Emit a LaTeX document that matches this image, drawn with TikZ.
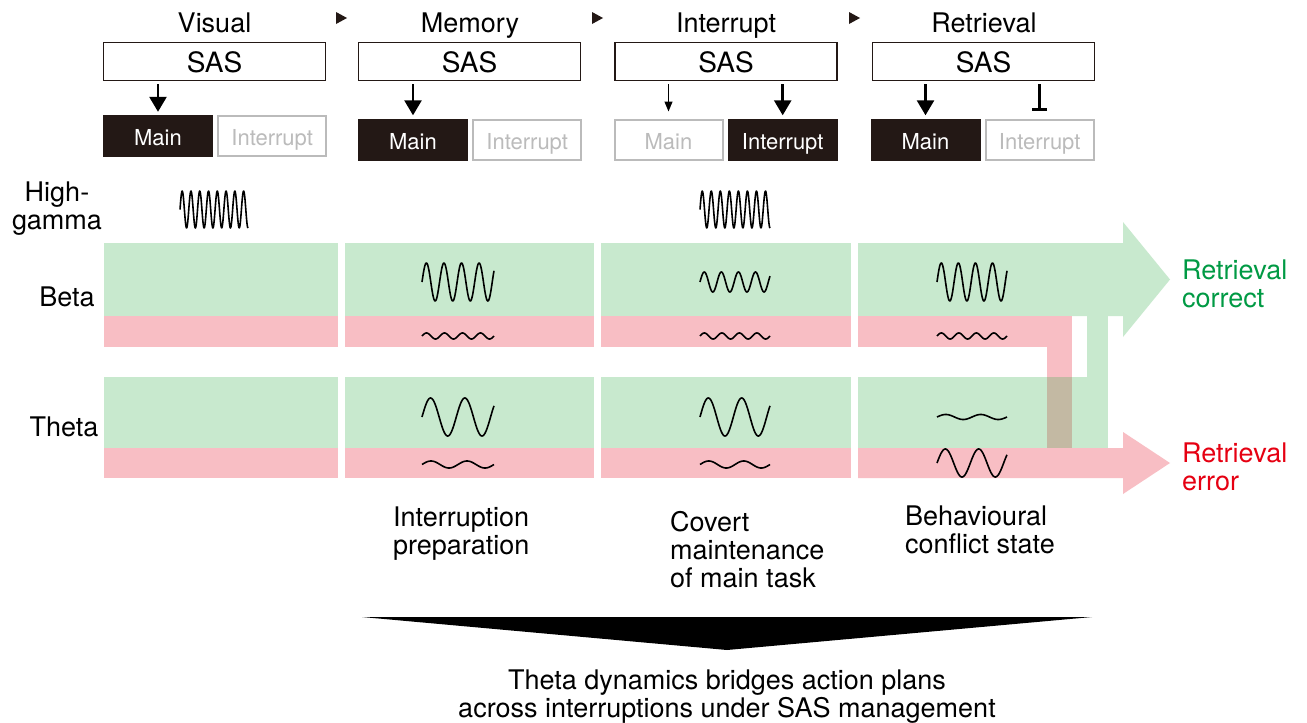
\documentclass[tikz,border=0pt]{standalone}
\usepackage{fontspec}
\setmainfont{TeX Gyre Heros}
\usepackage{xcolor}
\definecolor{inkDark}{HTML}{231815}
\definecolor{offGray}{HTML}{BBBBBB}
\definecolor{bandGreen}{HTML}{C8E9CE}
\definecolor{bandPink}{HTML}{F8BEC4}
\definecolor{bandMix}{HTML}{C3B9A3}
\definecolor{okGreen}{HTML}{009A44}
\definecolor{errRed}{HTML}{E60012}
\usepackage{tikz}
\usetikzlibrary{
    arrows.meta,
    positioning
}
\tikzset{
    % Base style for all text
    text base/.style={
        font=\fontsize{27}{28}\selectfont,
        text=black,
        inner sep=0pt,
    },
    % Phase titles above the SAS boxes
    phase title/.style={
        text base,
        anchor=base,
    },
    % SAS boxes
    sas box/.style={
        text base,
        font=\fontsize{28}{28}\selectfont,
        draw=inkDark,
        line width=1.3pt,
        fill=white,
        minimum width=222pt,
        minimum height=38pt,
        text height=24pt,
        text depth=1.6pt,
    },
    % Task boxes - active (filled) and inactive (grey)
    task base/.style={
        font=\fontsize{22}{24}\selectfont,
        inner sep=0pt,
        text height=20pt,
        text depth=0.2pt,
    },
    task on/.style={
        task base,
        fill=inkDark,
        text=white,
        minimum width=110pt,
        minimum height=42pt,
    },
    task off/.style={
        task base,
        draw=offGray,
        line width=2pt,
        text=offGray,
        fill=white,
        minimum width=108pt,
        minimum height=40pt,
    },
    % SAS control arrows
    sas arrow/.style={
        -{Triangle[length=15pt, width=17pt]},
        line width=2.6pt,
        shorten <=3pt,
        shorten >=3pt,
    },
    sas weak/.style={
        -{Triangle[length=10pt, width=8pt]},
        line width=1.2pt,
        shorten <=3pt,
        shorten >=7pt,
    },
    sas block/.style={
        -{Bar[width=15pt, line width=2.8pt]},
        line width=2.6pt,
        shorten <=3pt,
        shorten >=7.5pt,
    },
    % Labels
    row label/.style={
        text base,
        align=center,
    },
    note/.style={
        text base,
        align=left,
        anchor=north west,
    },
    % Oscillation traces
    wave line/.style={
        line width=1.6pt,
        black,
        line join=round,
    },
}
% x, y centre, amplitude, cycles, width
\newcommand{\oscwave}[5]{%
    \draw[wave line] plot[domain=0:#5, samples=160]
        ({#1+\x},{#2-#3*sin(\x/#5*#4*360)});}

\begin{document}
\begin{tikzpicture}[x=1pt, y=-1pt]
    \useasboundingbox (0,0) rectangle (1307,723);
    \fill[white] (0,0) rectangle (1307,723);

    % phase titles and SAS boxes
    \node[phase title] (ph1) at (214.5,32) {Visual};
    \node[phase title] (ph2) at (470,32) {Memory};
    \node[phase title] (ph3) at (726,32) {Interrupt};
    \node[phase title] (ph4) at (984,32) {Retrieval};
    \foreach \tx in {336,592,849}
        \fill[inkDark] (\tx,12) -- ++(11,6) -- ++(-11,6) -- cycle;

    \node[sas box] (sas1) at (214.5,61.5) {SAS};
    \node[sas box] (sas2) at (469.5,61.5) {SAS};
    \node[sas box] (sas3) at (726,61.5) {SAS};
    \node[sas box] (sas4) at (983.5,61.5) {SAS};

    % task boxes
    \node[task on] (main1) at (158,136) {Main};
    \node[task off, right=4pt of main1] (int1) {Interrupt};
    \node[task on] (main2) at (413,139.5) {Main};
    \node[task off, right=4pt of main2] (int2) {Interrupt};
    \node[task off] (main3) at (668.5,139.5) {Main};
    \node[task on, right=4pt of main3] (int3) {Interrupt};
    \node[task on] (main4) at (925.5,139.5) {Main};
    \node[task off, right=4pt of main4] (int4) {Interrupt};

    \draw[sas arrow] (sas1.south -| main1.north) -- (main1.north);
    \draw[sas arrow] (sas2.south -| main2.north) -- (main2.north);
    \draw[sas weak] (sas3.south -| main3.north) -- (main3.north);
    \draw[sas arrow] (sas3.south -| int3.north) -- (int3.north);
    \draw[sas arrow] (sas4.south -| main4.north) -- (main4.north);
    \draw[sas block] (sas4.south -| int4.north) -- (int4.north);

    % bands, columns 1-3
    \foreach \xa/\xb in {104/338, 345/594, 601/851} {
        \fill[bandGreen] (\xa,243) rectangle (\xb,316);
        \fill[bandPink] (\xa,316) rectangle (\xb,347);
        \fill[bandGreen] (\xa,377) rectangle (\xb,448);
        \fill[bandPink] (\xa,448) rectangle (\xb,478);
    }
    % column 4 and the two outcomes
    \fill[bandGreen] (858,243) -- (1123,243) -- (1123,222) -- (1170,279.5)
        -- (1123,337) -- (1123,316) -- (858,316) -- cycle;
    \fill[bandGreen] (858,377) rectangle (1108,448);
    \fill[bandGreen] (1087,315) rectangle (1108,448);
    \fill[bandPink] (858,316) rectangle (1072,347);
    \fill[bandPink] (1047,346) rectangle (1072,377);
    \fill[bandMix] (1047,377) rectangle (1072,448);
    \fill[bandPink] (858,448) -- (1123,448) -- (1123,432) -- (1170,463)
        -- (1123,494) -- (1123,478) -- (858,478) -- cycle;

    % high gamma
    \oscwave{180}{209.5}{18.5}{7.75}{68}
    \oscwave{700}{209.5}{18.5}{7.75}{70}
    % memory
    \oscwave{422}{282}{19}{4.1}{72}
    \oscwave{422}{336}{3}{4}{72}
    \oscwave{422}{417}{19}{2.1}{72}
    \oscwave{422}{464.5}{3.5}{2}{72}
    % interrupt
    \oscwave{700}{282}{10}{4.1}{70}
    \oscwave{700}{336}{3}{4}{70}
    \oscwave{700}{417}{19}{2.1}{70}
    \oscwave{700}{464.5}{3.5}{2}{70}
    % retrieval
    \oscwave{937}{282}{19}{4.1}{70}
    \oscwave{937}{336}{3}{4}{70}
    \oscwave{937}{417}{2.5}{2}{70}
    \oscwave{937}{463}{14}{2.1}{70}

    % row labels
    \node[row label, anchor=north] (gamma) at (57,182) {High-\\gamma};
    \node[row label] (beta) at (67,297) {Beta};
    \node[row label] (theta) at (64,427) {Theta};

    % outcomes
    \node[note, text=okGreen] (correct) at (1182,260) {Retrieval\\correct};
    \node[note, text=errRed] (error) at (1182,443) {Retrieval\\error};

    % phase notes
    \node[note] (prep) at (393,507) {Interruption\\preparation};
    \node[note] (covert) at (670,511) {Covert\\maintenance\\of main task};
    \node[note] (conflict) at (905,506) {Behavioural\\conflict state};

    % summary
    \fill[black] (362,617) -- (1092,617) -- (727,650) -- cycle;
    \node[row label, anchor=north] (summary) at (727,670)
        {Theta dynamics bridges action plans\\across interruptions under SAS management};
\end{tikzpicture}
\end{document}
